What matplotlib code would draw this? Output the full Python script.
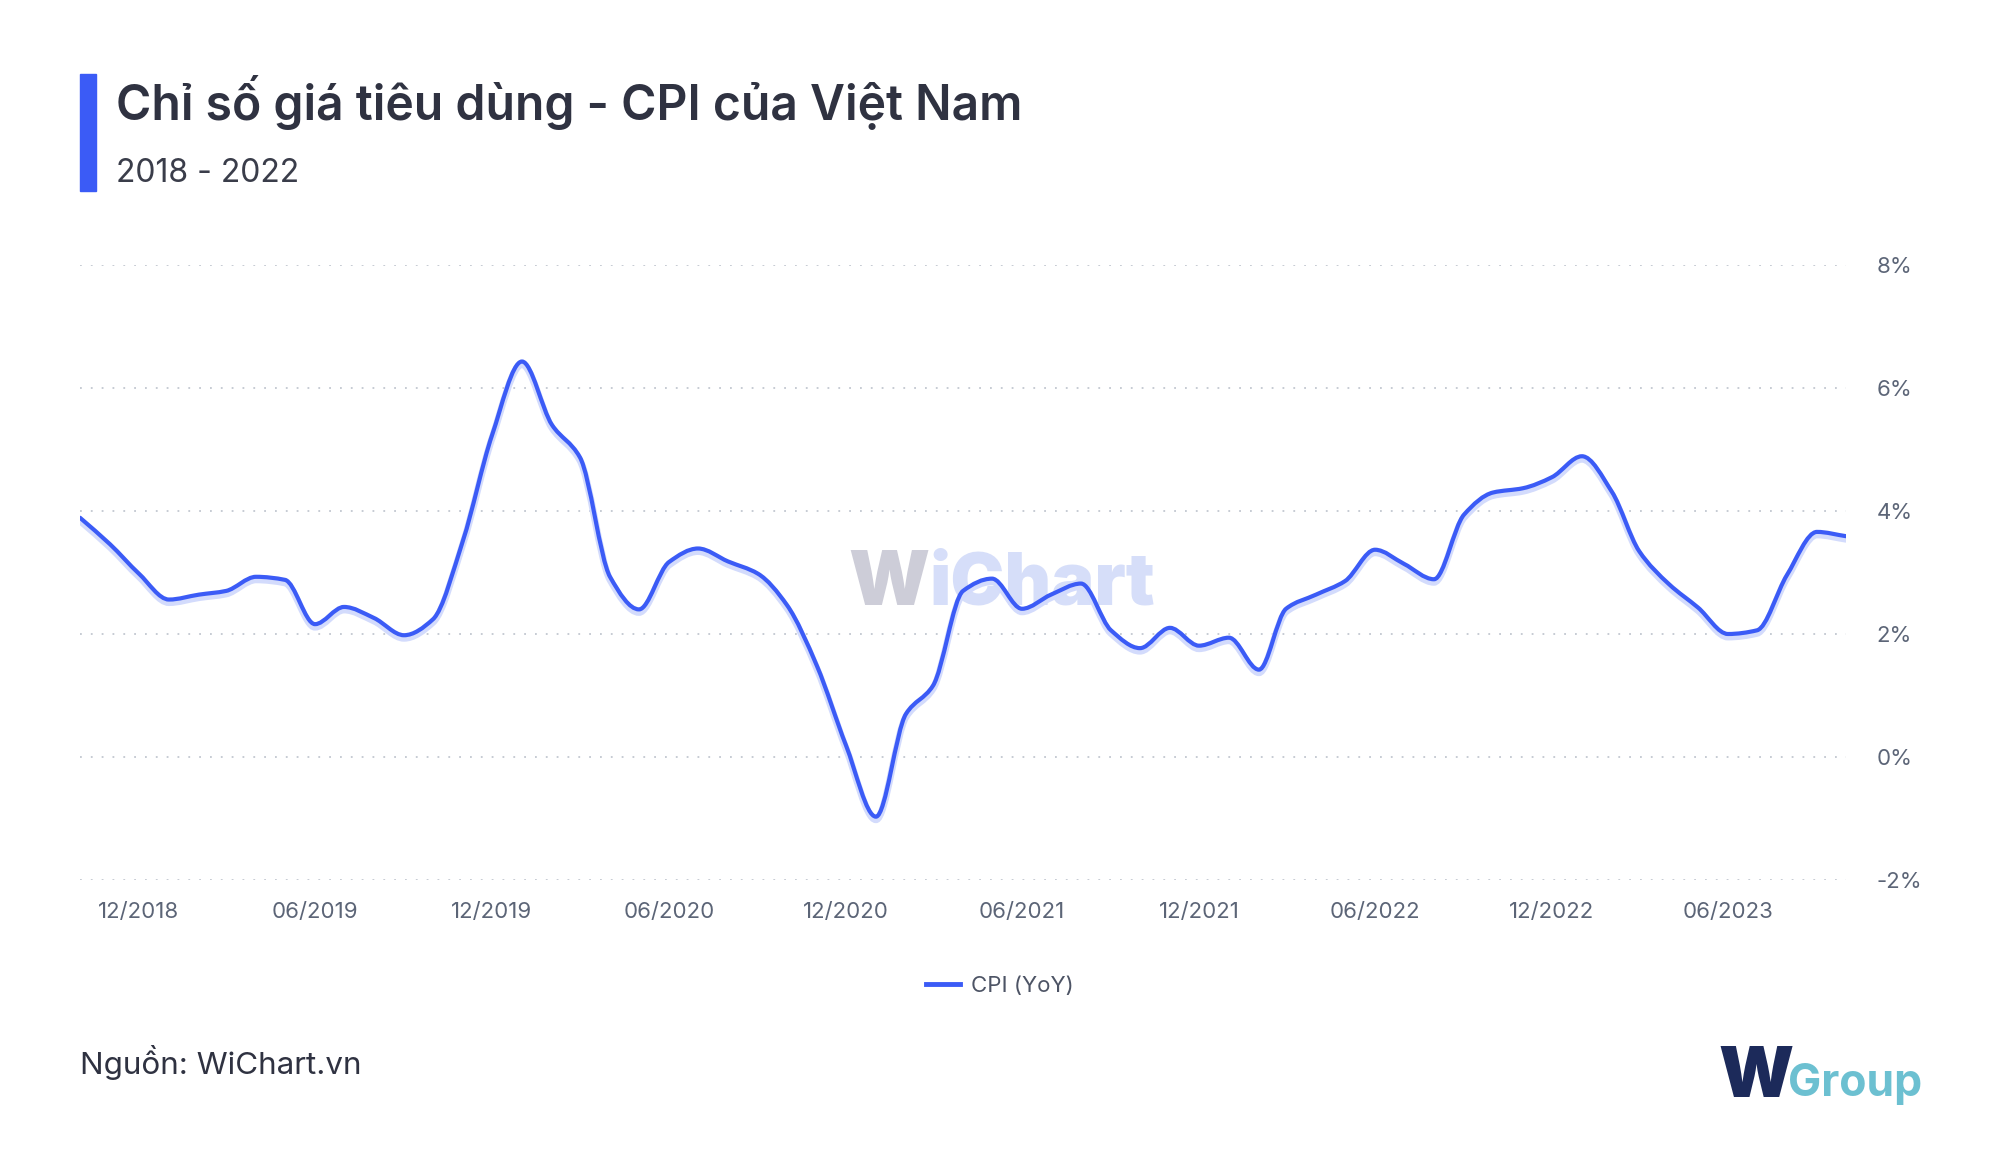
import numpy as np
import pandas as pd
import matplotlib
matplotlib.use("Agg")
import matplotlib.pyplot as plt
import matplotlib.dates as mdates
from matplotlib.path import Path
from matplotlib.patches import PathPatch, Rectangle
from matplotlib.transforms import ScaledTranslation
from matplotlib.lines import Line2D

# ---------------- data ----------------
months = pd.date_range("2018-10-01", "2023-10-01", freq="MS")
cpi = [3.89, 3.46, 2.98,
       2.56, 2.64, 2.70, 2.93, 2.88, 2.16, 2.44, 2.26, 1.98, 2.24, 3.52, 5.23,
       6.43, 5.40, 4.87, 2.93, 2.40, 3.17, 3.39, 3.18, 2.98, 2.47, 1.48, 0.19,
       -0.97, 0.70, 1.16, 2.70, 2.90, 2.41, 2.64, 2.82, 2.06, 1.77, 2.10, 1.81,
       1.94, 1.42, 2.41, 2.64, 2.86, 3.37, 3.14, 2.89, 3.94, 4.30, 4.37, 4.55,
       4.89, 4.31, 3.35, 2.81, 2.43, 2.00, 2.06, 2.96, 3.66, 3.59]
tick_dates = pd.date_range("2018-12-01", "2023-06-01", freq="6MS")
y_ticks = [-2, 0, 2, 4, 6, 8]

title = "Chỉ số giá tiêu dùng - CPI của Việt Nam"
subtitle = "2018 - 2022"
series_name = "CPI (YoY)"
source = "Nguồn: WiChart.vn"

LINE = "#3b5bf6"
TXT = "#2f3241"
AX = "#5c6577"

plt.rcParams['font.family'] = ['Inter', 'DejaVu Sans']

fig = plt.figure(figsize=(20, 11.59), dpi=100)
ax = fig.add_axes([0.04, 0.2407, 0.883, 0.5307])

x = mdates.date2num(months.to_pydatetime())
y = np.asarray(cpi, dtype=float)


def monotone_path(x, y):
    n = len(x)
    h = np.diff(x)
    d = np.diff(y) / h
    m = np.zeros(n)
    m[0] = d[0]
    m[-1] = d[-1]
    for i in range(1, n - 1):
        if d[i - 1] * d[i] <= 0:
            m[i] = 0.0
        else:
            w1 = 2 * h[i] + h[i - 1]
            w2 = h[i] + 2 * h[i - 1]
            m[i] = (w1 + w2) / (w1 / d[i - 1] + w2 / d[i])
    verts = [(x[0], y[0])]
    codes = [Path.MOVETO]
    for i in range(n - 1):
        verts += [(x[i] + h[i] / 3, y[i] + m[i] * h[i] / 3),
                  (x[i + 1] - h[i] / 3, y[i + 1] - m[i + 1] * h[i] / 3),
                  (x[i + 1], y[i + 1])]
        codes += [Path.CURVE4] * 3
    return Path(verts, codes)


path = monotone_path(x, y)
shadow_tr = ax.transData + ScaledTranslation(0, -3 / 100, fig.dpi_scale_trans)
ax.add_patch(PathPatch(path, facecolor="none", edgecolor="#d3dbfc", lw=5.0,
                       transform=shadow_tr, zorder=2, capstyle="round"))
ax.add_patch(PathPatch(path, facecolor="none", edgecolor=LINE, lw=3.0,
                       zorder=3, capstyle="round", joinstyle="round"))

ax.set_xlim(x[0], x[-1])
ax.set_ylim(-2, 8)
ax.set_yticks(y_ticks)
ax.set_yticklabels([f"{v}%" for v in y_ticks])
ax.yaxis.tick_right()
ax.set_xticks(mdates.date2num(tick_dates.to_pydatetime()))
ax.set_xticklabels([d.strftime("%m/%Y") for d in tick_dates])
ax.tick_params(axis="both", length=0, labelsize=16, labelcolor=AX)
ax.tick_params(axis="y", pad=22)
ax.tick_params(axis="x", pad=16)
for lab in ax.get_yticklabels():
    lab.set_horizontalalignment("left")
for s in ax.spines.values():
    s.set_visible(False)
ax.grid(axis="y", color="#c2c7d0", lw=1.3, linestyle=(0, (1, 5)))
ax.set_axisbelow(True)

# watermark (behind the line)
ax.text(0.424, 0.478, "W", fontsize=54, fontweight="black", color="#cdcdd8",
        ha="left", va="baseline", zorder=1, transform=fig.transFigure)
ax.text(0.4645, 0.478, "iChart", fontsize=52, fontweight="black", color="#d6def9",
        ha="left", va="baseline", zorder=1, transform=fig.transFigure)

# title block
fig.patches.append(Rectangle((0.040, 1 - 191 / 1159), 0.008, 117 / 1159,
                             transform=fig.transFigure, color=LINE))
fig.text(0.058, 1 - 102 / 1159, title, fontsize=34.6, fontweight="semibold",
         color=TXT, ha="left", va="center")
fig.text(0.058, 1 - 174 / 1159, subtitle, fontsize=23, color="#3a3d4a",
         ha="left", va="center")

# legend
handle = Line2D([], [], color=LINE, lw=3.5)
fig.legend([handle], [series_name], loc="center", bbox_to_anchor=(0.5, 1 - 986 / 1159),
           frameon=False, fontsize=16, handlelength=1.5, handletextpad=0.5,
           labelcolor="#4d5465")

# source
fig.text(0.040, 1 - 1063 / 1159, source, fontsize=22.6, color=TXT,
         ha="left", va="center")

# logo
fig.text(0.859, 1 - 1097 / 1159, "W", fontsize=50, fontweight="black",
         color="#1c2a5a", ha="left", va="baseline")
fig.text(0.894, 1 - 1096 / 1159, "Group", fontsize=32, fontweight="bold",
         color="#6cc0d1", ha="left", va="baseline")

fig.savefig("out.png", dpi=100, facecolor="white")
